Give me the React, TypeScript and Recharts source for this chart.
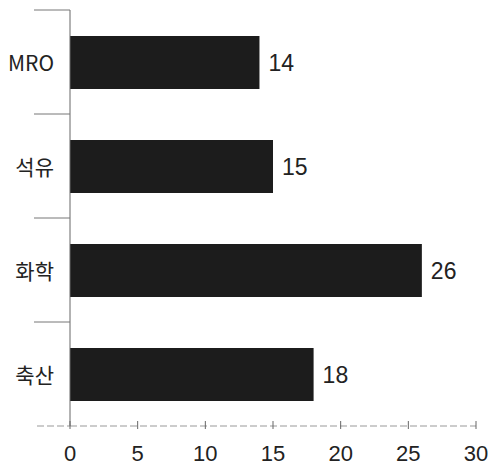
import React from "react";
import { Bar, BarChart, LabelList, XAxis, YAxis } from "recharts";

const categories = ["MRO", "석유", "화학", "축산"];
const values = [14, 15, 26, 18];
const xTicks = [0, 5, 10, 15, 20, 25, 30];

const W = 491;
const H = 466;
const margin = { top: 10, right: 15, bottom: 0, left: 0 };
const xAxisHeight = 40;
const band = (H - margin.top - margin.bottom - xAxisHeight) / categories.length;

const data = categories.map((name, i) => ({ name, value: values[i] }));

const YTick = (props: any) => {
  const { x, y, payload } = props;
  return (
    <g>
      <line x1={x - 36} x2={x} y1={y - band / 2} y2={y - band / 2} stroke="#777" strokeWidth={1} />
      <text
        x={x - 16}
        y={y}
        textAnchor="end"
        dominantBaseline="central"
        fontFamily="'Noto Sans CJK KR', sans-serif"
        fontSize={21}
        fill="#222"
      >
        {payload.value}
      </text>
    </g>
  );
};

const XTick = (props: any) => {
  const { x, y, payload } = props;
  return (
    <g>
      {payload.value === 0 && (
        <line x1={x - 33} x2={x} y1={y} y2={y} stroke="#999" strokeDasharray="7 3" />
      )}
      <line x1={x} x2={x} y1={y - 5} y2={y + 3} stroke="#666" />
      <text
        x={x}
        y={y + 35}
        textAnchor="middle"
        fontFamily="'Liberation Sans', Arial, sans-serif"
        fontSize={22}
        fill="#222"
      >
        {payload.value}
      </text>
    </g>
  );
};

export default function App() {
  return (
    <div style={{ position: "fixed", left: 0, top: 0, background: "#fff" }}>
      <BarChart width={W} height={H} data={data} layout="vertical" margin={margin} barSize={53}>
        <XAxis
          type="number"
          domain={[0, 30]}
          ticks={xTicks}
          height={xAxisHeight}
          tickSize={0}
          tickMargin={0}
          tickLine={false}
          axisLine={{ stroke: "#999", strokeDasharray: "7 3" }}
          tick={<XTick />}
          interval={0}
        />
        <YAxis
          type="category"
          dataKey="name"
          width={70}
          tickSize={0}
          tickMargin={0}
          tickLine={false}
          axisLine={{ stroke: "#666" }}
          tick={<YTick />}
          interval={0}
        />
        <Bar dataKey="value" fill="#1c1c1c" isAnimationActive={false}>
          <LabelList
            dataKey="value"
            position="right"
            offset={9}
            fontFamily="'Liberation Sans', Arial, sans-serif"
            fontSize={23}
            fill="#222"
          />
        </Bar>
      </BarChart>
    </div>
  );
}
